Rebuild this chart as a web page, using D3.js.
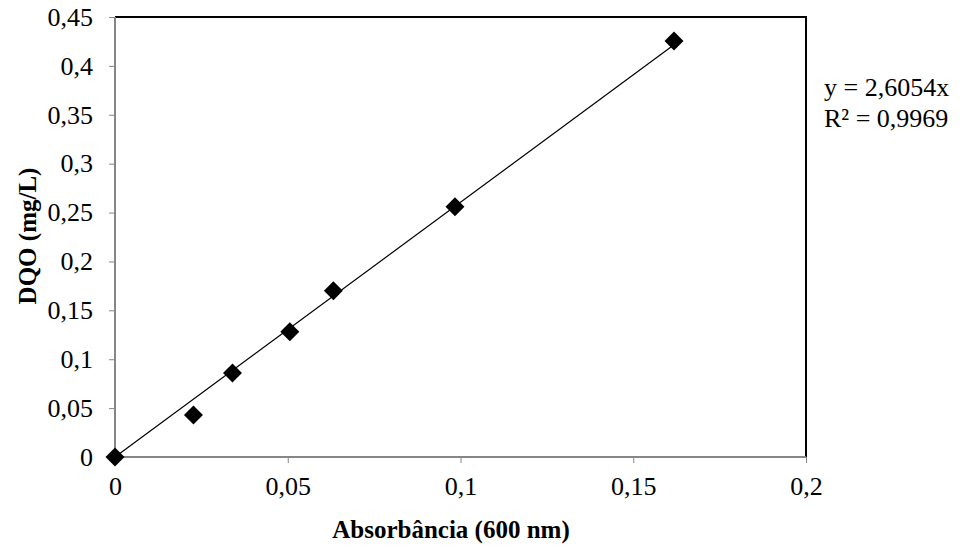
<!DOCTYPE html>
<html><head><meta charset="utf-8">
<script src="https://cdn.jsdelivr.net/npm/d3@7"></script>
<style>body{margin:0;background:#fff}svg{display:block}text{font-family:"Liberation Serif","Times New Roman",serif}</style>
</head><body>
<svg id="c" width="960" height="547"></svg>
<script>
const absorbancia = [0, 0.0227, 0.0340, 0.0506, 0.0632, 0.0984, 0.1618];
const dqo = [0, 0.043, 0.086, 0.128, 0.170, 0.256, 0.4255];
const xTicks = [0, 0.05, 0.1, 0.15, 0.2];
const yTicks = [0, 0.05, 0.1, 0.15, 0.2, 0.25, 0.3, 0.35, 0.4, 0.45];
const slope = 2.6054;
const eqLines = ["y = 2,6054x", "R² = 0,9969"];

const svg = d3.select("#c");
const L = 115, R = 806, T = 17, B = 457;
const x = d3.scaleLinear().domain([0, 0.2]).range([L, R]);
const y = d3.scaleLinear().domain([0, 0.45]).range([B, T]);
const fmt = d => String(d).replace(".", ",");

svg.append("path").attr("d", `M${L},${T}H${R}V${B}`).attr("fill","none").attr("stroke","#000").attr("stroke-width",2);

const xa = svg.append("g").attr("transform",`translate(0,${B})`)
  .call(d3.axisBottom(x).tickValues(xTicks).tickFormat(fmt).tickSize(6).tickPadding(14));
const ya = svg.append("g").attr("transform",`translate(${L},0)`)
  .call(d3.axisLeft(y).tickValues(yTicks).tickFormat(fmt).tickSize(6).tickPadding(16));
[xa, ya].forEach(a => {
  a.select(".domain").attr("stroke","#868686").attr("stroke-width",2);
  a.selectAll(".tick line").attr("stroke","#868686").attr("stroke-width",1);
  a.selectAll("text").attr("font-size",26).attr("fill","#000").attr("font-family","Liberation Serif");
});
xa.select(".domain").attr("d", `M${L},0H${R}`);
ya.select(".domain").attr("d", `M0,${T}V${B}`);

const xmax = d3.max(absorbancia);
svg.append("line").attr("x1",x(0)).attr("y1",y(0)).attr("x2",x(xmax)).attr("y2",y(slope*xmax))
  .attr("stroke","#000").attr("stroke-width",1.2);

const pts = absorbancia.map((a,i)=>[a,dqo[i]]);
svg.append("g").selectAll("path").data(pts).join("path")
  .attr("transform", d=>`translate(${x(d[0])},${y(d[1])}) rotate(45)`)
  .attr("d", d3.symbol().type(d3.symbolSquare).size(180))
  .attr("fill","#000");

svg.append("text").attr("x", 824).attr("y", 96).attr("font-size",26).text(eqLines[0]);
svg.append("text").attr("x", 824).attr("y", 127).attr("font-size",26).text(eqLines[1]);

svg.append("text").attr("x", 451).attr("y", 538).attr("text-anchor","middle")
  .attr("font-size",25).attr("font-weight","bold").text("Absorbância (600 nm)");
svg.append("text").attr("transform",`translate(36,236) rotate(-90)`).attr("text-anchor","middle")
  .attr("font-size",25).attr("font-weight","bold").text("DQO (mg/L)");
</script>
</body></html>
